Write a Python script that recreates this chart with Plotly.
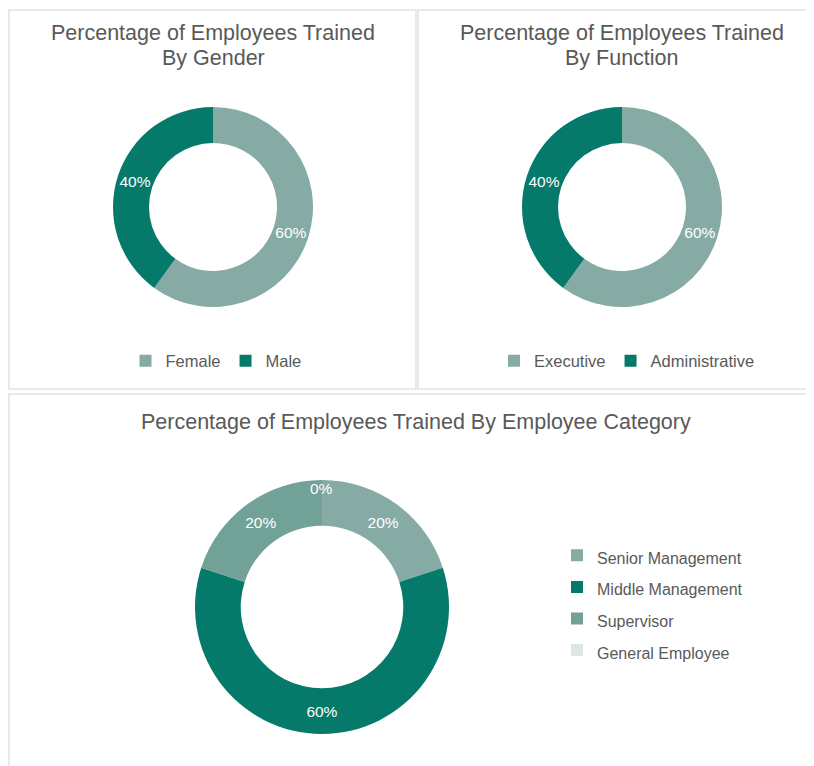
import math
import plotly.graph_objects as go

W, H = 814, 766

gender_labels = ["Female", "Male"]
gender_values = [60, 40]

function_labels = ["Executive", "Administrative"]
function_values = [60, 40]

category_labels = ["Senior Management", "Middle Management", "Supervisor", "General Employee"]
category_values = [20, 60, 20, 0]

C_LIGHT = "#86ABA5"
C_DARK = "#057A6A"
C_SUP = "#72A197"
C_GEN = "#DDE7E5"

FONT = "Liberation Sans, Arial, sans-serif"
TXT = "#595959"
OFF = 8  # page body margin


def sx(x):
    return (x - OFF) / W


def sy(y):
    return (H - (y - OFF)) / H


def dom(cx, cy, r):
    return dict(x=[sx(cx - r), sx(cx + r)], y=[sy(cy + r), sy(cy - r)])


HOLE = 0.64
lab_font = dict(color="white", size=15.5, family=FONT)

fig = go.Figure()

fig.add_trace(go.Pie(
    labels=gender_labels, values=gender_values, hole=HOLE, sort=False,
    direction="clockwise", rotation=0,
    marker=dict(colors=[C_LIGHT, C_DARK]),
    textposition="inside", insidetextorientation="horizontal",
    texttemplate="%{value}%", textfont=lab_font,
    domain=dom(213, 207, 100), legend="legend",
    hoverinfo="label+percent",
))

fig.add_trace(go.Pie(
    labels=function_labels, values=function_values, hole=HOLE, sort=False,
    direction="clockwise", rotation=0,
    marker=dict(colors=[C_LIGHT, C_DARK]),
    textposition="inside", insidetextorientation="horizontal",
    texttemplate="%{value}%", textfont=lab_font,
    domain=dom(622, 207, 100), legend="legend2",
    hoverinfo="label+percent",
))

# vertical legend: larger legend font for taller rows, text itself at 16px
cat_legend_names = ["<span style='font-size:16px'>%s</span>" % l for l in category_labels]
cat_templates = ["%{value}%" if v > 0 else "" for v in category_values]
fig.add_trace(go.Pie(
    labels=cat_legend_names, values=category_values, hole=HOLE, sort=False,
    direction="clockwise", rotation=0,
    marker=dict(colors=[C_LIGHT, C_DARK, C_SUP, C_GEN]),
    textposition="inside", insidetextorientation="horizontal",
    texttemplate=cat_templates, textfont=lab_font,
    domain=dom(322, 607, 127), legend="legend3",
    hoverinfo="percent",
))

# label for zero-valued slice, placed at the slice's angle on the ring
annotations = []
BCX, BCY, BR = 322, 607, 127
tot = sum(category_values)
cum = 0
for lab, v in zip(category_labels, category_values):
    if v == 0:
        ang = math.radians(cum / tot * 360)
        rl = BR * 0.93
        annotations.append(dict(
            text="%d%%" % v, x=sx(BCX + rl * math.sin(ang)), y=sy(BCY - rl * math.cos(ang)),
            xref="paper", yref="paper", xanchor="center", yanchor="middle", showarrow=False,
            font=lab_font))
    cum += v

border = dict(color="#E2E2E2", width=1.5)
shapes = [
    dict(type="rect", xref="paper", yref="paper", x0=sx(9), x1=sx(416), y0=sy(389), y1=sy(10), line=border, layer="below"),
    dict(type="rect", xref="paper", yref="paper", x0=sx(418), x1=sx(830), y0=sy(389), y1=sy(10), line=border, layer="below"),
    dict(type="rect", xref="paper", yref="paper", x0=sx(9), x1=sx(830), y0=sy(790), y1=sy(394), line=border, layer="below"),
]

tfont = dict(size=21.5, color=TXT, family=FONT)


def title(text, x, y):
    annotations.append(dict(text=text, x=sx(x), y=sy(y), xref="paper", yref="paper",
                            xanchor="center", yanchor="middle", showarrow=False, font=tfont))


title("Percentage of Employees Trained", 213, 33)
title("By Gender", 213, 58)
title("Percentage of Employees Trained", 622, 33)
title("By Function", 622, 58)
title("Percentage of Employees Trained By Employee Category", 416, 422)

leg_font = dict(size=16.5, color=TXT, family=FONT)
fig.update_layout(
    width=W, height=H, margin=dict(l=0, r=0, t=0, b=0),
    paper_bgcolor="white", plot_bgcolor="white",
    shapes=shapes, annotations=annotations,
    uniformtext=dict(minsize=15.5, mode="show"),
    legend=dict(orientation="h", x=sx(216), y=sy(361), xanchor="center", yanchor="middle",
                font=leg_font, bgcolor="rgba(0,0,0,0)"),
    legend2=dict(orientation="h", x=sx(627), y=sy(361), xanchor="center", yanchor="middle",
                 font=leg_font, bgcolor="rgba(0,0,0,0)"),
    legend3=dict(orientation="v", x=sx(557), y=sy(603), xanchor="left", yanchor="middle",
                 font=dict(size=22, color=TXT, family=FONT), bgcolor="rgba(0,0,0,0)"),
)

fig.write_html("out.html")
